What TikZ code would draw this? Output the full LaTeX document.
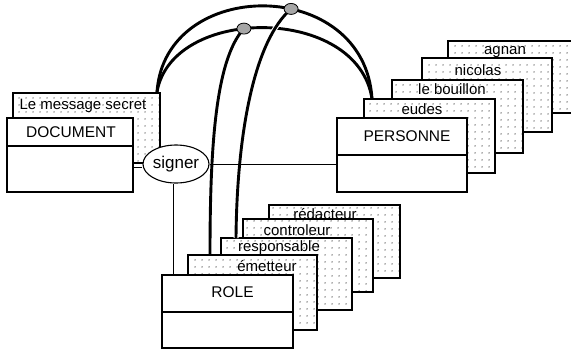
\documentclass[tikz,border=0pt]{standalone}
\usepackage{fontspec}
\setmainfont{Liberation Sans}
\usetikzlibrary{calc,patterns.meta,shapes.geometric}

\tikzset{
  card/.style={draw, line width=1.4pt, preaction={fill=white},
    pattern={Dots[distance=6.5pt, radius=0.75pt]}, pattern color=black!75,
    anchor=north west, inner sep=0pt, outer sep=0pt},
  box/.style={draw, fill=white, line width=1.4pt, anchor=north west,
    inner sep=0pt, outer sep=0pt},
  cardtext/.style={font=\fontsize{15}{18}\selectfont, inner sep=0pt},
  title/.style={font=\fontsize{15.5}{18}\selectfont, inner sep=0pt},
  rel/.style={draw, ellipse, fill=white, line width=1.1pt, minimum width=66pt,
    minimum height=38pt, inner sep=0pt, font=\fontsize{17}{20}\selectfont},
  link/.style={line width=1pt},
  arc/.style={line width=2.9pt},
  knot/.style={draw, ellipse, fill=gray!70, line width=0.8pt,
    minimum width=14pt, minimum height=11pt, inner sep=0pt}
}

\begin{document}
\begin{tikzpicture}[x=1pt, y=-1pt]
  \useasboundingbox (0,0) rectangle (571,349);
  \clip (0,0) rectangle (571,349);

  % DOCUMENT
  \node[card, minimum width=147, minimum height=70] (msg) at (13,93) {};
  \node[cardtext] at ($(msg.north west)+(70,13)$) {Le message secret};
  \node[box, minimum width=126, minimum height=74] (doc) at (7,118) {};
  \draw[line width=1.4pt] ($(doc.north west)+(0,28)$) -- ($(doc.north east)+(0,28)$);
  \node[title] at ($(doc.north)+(1,14)$) {DOCUMENT};

  % PERSONNE
  \node[card, minimum width=130, minimum height=72] (agnan) at (448,41) {};
  \node[cardtext] at ($(agnan.north west)+(57,11)$) {agnan};
  \node[card, minimum width=130, minimum height=74] (nicolas) at (422,58) {};
  \node[cardtext] at ($(nicolas.north west)+(56,12)$) {nicolas};
  \node[card, minimum width=131, minimum height=73] (bouillon) at (392,80) {};
  \node[cardtext] at ($(bouillon.north west)+(60,9)$) {le bouillon};
  \node[card, minimum width=131, minimum height=74] (eudes) at (364,99) {};
  \node[cardtext] at ($(eudes.north west)+(58,10)$) {eudes};
  \node[box, minimum width=130, minimum height=74] (pers) at (337,118) {};
  \draw[line width=1.4pt] ($(pers.north west)+(0,37)$) -- ($(pers.north east)+(0,37)$);
  \node[title] at ($(pers.north)+(5,18)$) {PERSONNE};

  % ROLE
  \node[card, minimum width=131, minimum height=73] (redac) at (269,205) {};
  \node[cardtext] at ($(redac.north west)+(56,9)$) {rédacteur};
  \node[card, minimum width=130, minimum height=73] (contr) at (243,219) {};
  \node[cardtext] at ($(contr.north west)+(54,11)$) {controleur};
  \node[card, minimum width=131, minimum height=72] (resp) at (221,238) {};
  \node[cardtext] at ($(resp.north west)+(58,10)$) {responsable};
  \node[card, minimum width=129, minimum height=75] (emet) at (188,255) {};
  \node[cardtext] at ($(emet.north west)+(79,11)$) {émetteur};
  \node[box, minimum width=131, minimum height=73] (role) at (162,275) {};
  \draw[line width=1.4pt] ($(role.north west)+(0,37)$) -- ($(role.north east)+(0,37)$);
  \node[title] at ($(role.north)+(5,17)$) {ROLE};

  % relation
  \node[rel] (signer) at (176,164) {signer};
  \draw[link] ([yshift=-3pt]doc.east |- signer) -- ([yshift=-3pt]signer.west);
  \draw[link] ([xshift=-3pt]signer.south) -- ([xshift=-3pt]signer.south |- role.north);

  % arcs between the instances
  \draw[arc] ($(msg.north east)+(-3,-1)$) .. controls (165,-24) and (365,-24)
    .. ($(eudes.north west)+(8,0)$) coordinate[pos=0.585] (k1);
  \draw[arc] ($(msg.north east)+(-3,-1)$) .. controls (172,5) and (358,5)
    .. ($(eudes.north west)+(8,0)$) coordinate[pos=0.43] (k2);
  \draw[arc, preaction={draw=white, line width=5pt}] (k1)
    .. controls (255,40) and (237,130) .. ($(resp.north west)+(15,0)$);
  \draw[arc] (k2) .. controls (215,60) and (210,150) .. ($(emet.north west)+(22,0)$);
  \node[knot] at (k1) {};
  \node[knot] at (k2) {};

  \draw[link] (signer.east) -- (signer.east -| pers.west);
\end{tikzpicture}
\end{document}
